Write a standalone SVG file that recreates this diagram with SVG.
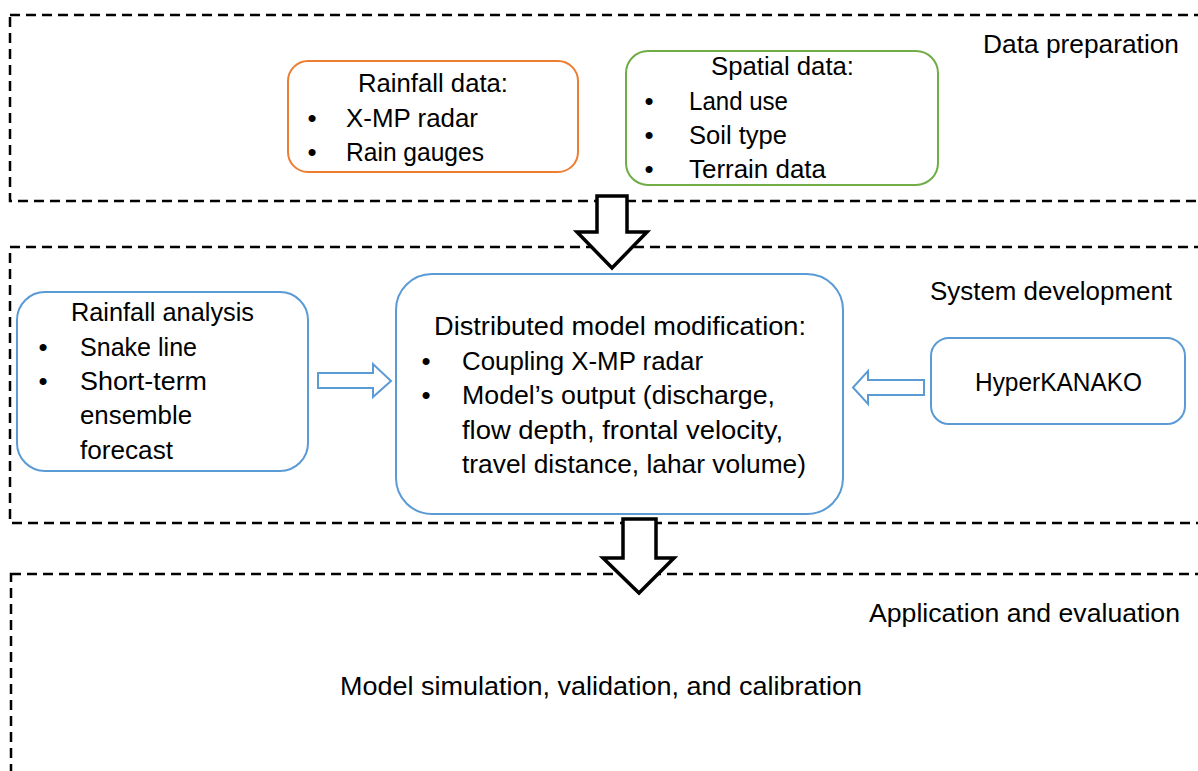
<svg xmlns="http://www.w3.org/2000/svg" width="1198" height="771" viewBox="0 0 1198 771">
<style>
.frame{fill:none;stroke:#000;stroke-width:2.5;stroke-dasharray:10 6}
.t{font-family:"Liberation Sans",Arial,sans-serif;font-size:26px;fill:#000}
.m{text-anchor:middle}
.box{fill:#fff;stroke-width:2}
.blue{stroke:#5B9BD5}
.blk{fill:#fff;stroke:#000;stroke-width:3.5;stroke-linejoin:miter}
.harrow{fill:#fff;stroke:#5B9BD5;stroke-width:2}
</style>
<rect width="1198" height="771" fill="#fff"/>
<g id="frames">
<rect class="frame" x="10" y="15" width="1220" height="186"/>
<rect class="frame" x="10" y="247" width="1220" height="276"/>
<rect class="frame" x="11" y="574" width="1220" height="240"/>
<text class="t" x="983" y="53" textLength="196" lengthAdjust="spacingAndGlyphs">Data preparation</text>
<text class="t" x="930" y="300" textLength="242" lengthAdjust="spacingAndGlyphs">System development</text>
<text class="t" x="869" y="622" textLength="311" lengthAdjust="spacingAndGlyphs">Application and evaluation</text>
</g>
<g id="connectors">
<path class="blk" d="M597,196 L627,196 L627,232 L647,232 L612,268 L577,232 L597,232 Z"/>
<path class="blk" d="M623,519 L656,519 L656,558 L674,558 L639,593 L603,558 L623,558 Z"/>
<path class="harrow" d="M318,373 L373,373 L373,364 L391,381 L373,397 L373,388 L318,388 Z"/>
<path class="harrow" d="M924,380 L868,380 L868,371 L853,387.5 L868,404 L868,395 L924,395 Z"/>
</g>
<g id="rainfall-data">
<rect class="box" x="288" y="61" width="290" height="111" rx="20" stroke="#ED7D31"/>
<text class="t" x="358" y="92" textLength="150" lengthAdjust="spacingAndGlyphs">Rainfall data:</text>
<text class="t m" x="312" y="127">•</text>
<text class="t" x="346" y="127" textLength="132" lengthAdjust="spacingAndGlyphs">X-MP radar</text>
<text class="t m" x="312" y="161">•</text>
<text class="t" x="346" y="161" textLength="138" lengthAdjust="spacingAndGlyphs">Rain gauges</text>
</g>
<g id="spatial-data">
<rect class="box" x="626" y="51" width="312" height="134" rx="22" stroke="#70AD47"/>
<text class="t" x="711" y="75" textLength="143" lengthAdjust="spacingAndGlyphs">Spatial data:</text>
<text class="t m" x="649" y="110">•</text>
<text class="t" x="689" y="110" textLength="99" lengthAdjust="spacingAndGlyphs">Land use</text>
<text class="t m" x="649" y="144">•</text>
<text class="t" x="689" y="144" textLength="98" lengthAdjust="spacingAndGlyphs">Soil type</text>
<text class="t m" x="649" y="178">•</text>
<text class="t" x="689" y="178" textLength="137" lengthAdjust="spacingAndGlyphs">Terrain data</text>
</g>
<g id="rainfall-analysis">
<rect class="box blue" x="17" y="292" width="291" height="179" rx="28"/>
<text class="t" x="71" y="321" textLength="183" lengthAdjust="spacingAndGlyphs">Rainfall analysis</text>
<text class="t m" x="43" y="356">•</text>
<text class="t" x="80" y="356" textLength="117" lengthAdjust="spacingAndGlyphs">Snake line</text>
<text class="t m" x="43" y="390">•</text>
<text class="t" x="80" y="390" textLength="127" lengthAdjust="spacingAndGlyphs">Short-term</text>
<text class="t" x="80" y="424" textLength="112" lengthAdjust="spacingAndGlyphs">ensemble</text>
<text class="t" x="80" y="459" textLength="93" lengthAdjust="spacingAndGlyphs">forecast</text>
</g>
<g id="model-modification">
<rect class="box blue" x="396" y="274" width="447" height="240" rx="36"/>
<text class="t" x="434" y="335" textLength="372" lengthAdjust="spacingAndGlyphs">Distributed model modification:</text>
<text class="t m" x="426" y="370">•</text>
<text class="t" x="462" y="370" textLength="241" lengthAdjust="spacingAndGlyphs">Coupling X-MP radar</text>
<text class="t m" x="426" y="404">•</text>
<text class="t" x="462" y="404" textLength="313" lengthAdjust="spacingAndGlyphs">Model’s output (discharge,</text>
<text class="t" x="462" y="439" textLength="321" lengthAdjust="spacingAndGlyphs">flow depth, frontal velocity,</text>
<text class="t" x="462" y="473" textLength="344" lengthAdjust="spacingAndGlyphs">travel distance, lahar volume)</text>
</g>
<g id="hyperkanako">
<rect class="box blue" x="931" y="338" width="254" height="86" rx="18"/>
<text class="t" x="975" y="391" textLength="167" lengthAdjust="spacingAndGlyphs">HyperKANAKO</text>
</g>
<g id="application">
<text class="t" x="340" y="695" textLength="522" lengthAdjust="spacingAndGlyphs">Model simulation, validation, and calibration</text>
</g>
</svg>
